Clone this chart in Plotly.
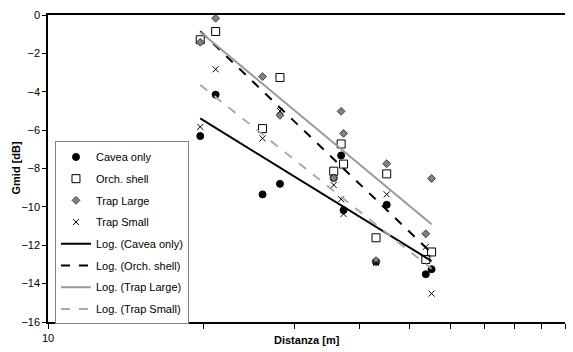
import numpy as np
import plotly.graph_objects as go

# Distances [m] (receiver positions)
dist = [19.7, 21.1, 26.0, 28.1, 35.7, 36.9, 37.3, 43.1, 45.2, 53.8, 55.2]

# Gmid [dB] per configuration
cavea_only = [-6.31, -4.15, -9.35, -8.80, -8.49, -7.32, -10.17, -12.86, -9.89, -13.51, -13.25]
orch_shell = [-1.29, -0.86, -5.92, -3.26, -8.14, -6.72, -7.77, -11.61, -8.28, -12.74, -12.35]
trap_large = [-1.42, -0.17, -3.21, -5.23, -8.49, -5.02, -6.17, -12.80, -7.75, -11.40, -8.52]
trap_small = [-5.83, -2.83, -6.43, -5.00, -8.86, -9.60, -10.37, -12.92, -9.35, -12.09, -14.52]

series_names = ["Cavea only", "Orch. shell", "Trap Large", "Trap Small"]
x_tick_vals = [10, 20, 30, 40, 50, 60, 70, 80, 90, 100]
x_tick_text = ["10", "", "", "", "", "", "", "", "", "100"]
y_tick_vals = [0, -2, -4, -6, -8, -10, -12, -14, -16]

data = [cavea_only, orch_shell, trap_large, trap_small]

marker_styles = [
    dict(symbol="circle", size=7, color="black", line=dict(color="black", width=1)),
    dict(symbol="square-open", size=8, color="black", line=dict(color="black", width=1)),
    dict(symbol="diamond", size=6, color="#808080", line=dict(color="#404040", width=1)),
    dict(symbol="x-thin-open", size=6, color="black", line=dict(color="black", width=1)),
]
line_styles = [
    dict(color="black", width=2, dash="solid"),
    dict(color="black", width=2, dash="dash"),
    dict(color="#999999", width=2, dash="solid"),
    dict(color="#AAAAAA", width=2, dash="dash"),
]

fig = go.Figure()
for i, (name, ys, ms) in enumerate(zip(series_names, data, marker_styles)):
    fig.add_trace(go.Scatter(x=dist, y=ys, mode="markers", name=name, marker=ms,
                             legendgroup=f"m{i}"))

lx = np.log10(np.array(dist))
xs = np.linspace(min(dist), max(dist), 50)
for i, (name, ys, ls) in enumerate(zip(series_names, data, line_styles)):
    a, b = np.polyfit(lx, np.array(ys), 1)
    fig.add_trace(go.Scatter(x=xs, y=a * np.log10(xs) + b, mode="lines",
                             name=f"Log. ({name})", line=ls, legendgroup=f"l{i}"))

font = "Liberation Sans, Arial, sans-serif"
fig.update_layout(
    width=573, height=352,
    margin=dict(l=48, r=8, t=15, b=26),
    plot_bgcolor="white", paper_bgcolor="white",
    font=dict(family=font, size=11, color="black"),
    showlegend=True,
    legend=dict(x=0.0135, y=0.588, xanchor="left", yanchor="top",
                bgcolor="white", bordercolor="#808080", borderwidth=1,
                font=dict(size=11), tracegroupgap=2.7),
    xaxis=dict(type="log", range=[1, 2], tickvals=x_tick_vals, ticktext=x_tick_text,
               ticks="outside", ticklen=5, tickcolor="black", showgrid=False,
               showline=True, linecolor="black", linewidth=1.5, mirror=True,
               zeroline=False, tickfont=dict(size=11)),
    yaxis=dict(range=[-16, 0], tickvals=y_tick_vals, ticks="outside", ticklen=4,
               tickcolor="black", showgrid=False, showline=True, linecolor="black",
               linewidth=1.5, zeroline=False, tickfont=dict(size=11)),
    annotations=[
        dict(text="<b>Distanza [m]</b>", x=0.5, y=-16, xref="paper", yref="y",
             yshift=-18, showarrow=False, font=dict(size=11), xanchor="center", yanchor="middle"),
        dict(text="<b>Gmid [dB]</b>", x=(15 - 48) / 517, y=-8, xref="paper", yref="y",
             showarrow=False, textangle=-90, font=dict(size=11),
             xanchor="center", yanchor="middle"),
    ],
)
fig.write_html("out.html")
